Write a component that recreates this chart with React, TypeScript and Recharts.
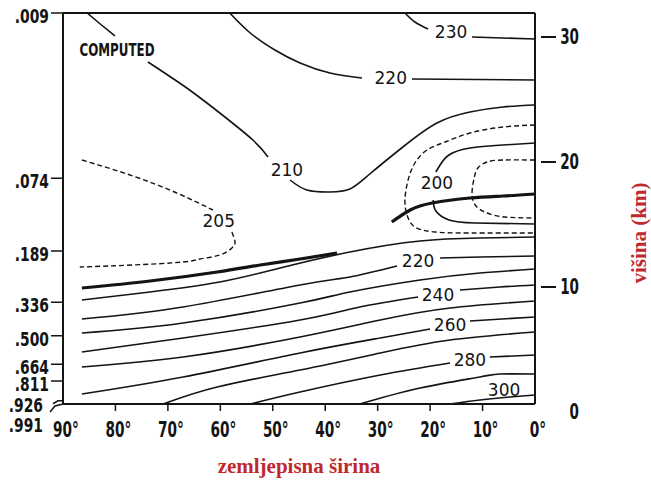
import React from 'react';
import { LineChart, Line, XAxis, YAxis, ReferenceLine, ReferenceDot } from 'recharts';

// axis ticks
const latTicks = [90, 80, 70, 60, 50, 40, 30, 20, 10, 0];
const heightTicks = [0, 10, 20, 30];
const sigmaLabels = ['.009', '.074', '.189', '.336', '.500', '.664', '.811', '.926', '.991'];
const sigmaHeights = [31.92, 18.7, 12.88, 8.78, 6.1, 3.82, 2.48, 0.9, 0.64];

// contours: [latitude, height km], null = gap for a label
type Row = [number, number | null];

const c230: Row[] = [[24.8, 31.92], [22.9, 31.2], [20.4, 30.64], [17.5, null], [12.0, 30.0], [0, 29.84]];
const c220top: Row[] = [[58.2, 31.92], [54.3, 30.32], [49.6, 28.96], [44.8, 27.92], [39.1, 27.12], [33.0, 26.72], [27.6, null], [23.45, 26.64], [0, 26.56]];
const c210top: Row[] = [
  [85.4, 31.92], [82.9, 31.04], [80.1, 30.08], [77.2, null], [73.8, 28.0], [66.4, 25.92], [60.1, 23.92],
  [53.8, 21.76], [50.9, 20.4], [49.5, null], [46.7, 18.56], [43.5, 17.76], [39.1, 17.6], [35.3, 17.84],
  [31.5, 19.04], [25.2, 21.2], [18.7, 23.12], [12.4, 24.0], [6.1, 24.4], [0, 24.56],
];
const c205left: Row[] = [
  [86.4, 20.16], [76.65, 18.88], [68.3, 17.52], [61.4, 16.16], [59.5, null], [57.8, 14.4], [57.2, 13.6],
  [57.8, 13.12], [60.1, 12.56], [63.9, 12.24], [67.1, 12.0], [76.65, 11.76], [86.8, 11.6],
];
const c205right: Row[] = [
  [0, 22.96], [6.1, 22.8], [12.4, 22.32], [17.15, 21.6], [20.6, 20.96], [22.9, 19.92], [24.2, 18.56],
  [24.8, 16.96], [24.4, 15.76], [22.9, 14.8], [19.1, 14.4], [12.4, 14.32], [0, 14.32],
];
const c200: Row[] = [
  [0, 21.52], [6.1, 21.36], [12.4, 21.12], [16.4, 20.56], [18.1, 19.76], [18.9, 19.2], [19, null],
  [19.4, 16.96], [18.9, 16.08], [16.4, 15.36], [11.4, 15.12], [0, 15.04],
];
const c195: Row[] = [
  [0, 20.16], [6.1, 20.16], [9.15, 20.0], [10.9, 19.52], [11.6, 18.72], [12.0, 17.6], [11.4, 16.56],
  [9.15, 15.92], [5.7, 15.6], [0, 15.52],
];
const tropoLeft: Row[] = [[86.4, 9.92], [73.4, 10.48], [60.6, 11.2], [52.4, 11.76], [44.8, 12.24], [37.75, 12.72]];
const tropoRight: Row[] = [[27.3, 15.2], [23.8, 16.16], [19.6, 16.72], [12.4, 17.12], [6.1, 17.28], [0, 17.44]];

const c210low: Row[] = [[86.4, 8.96], [73.4, 9.6], [60.1, 10.4], [48.6, 11.52], [35.3, 12.8], [21.9, 13.68], [10.5, 13.92], [0, 14.0]];
const c220: Row[] = [[86.4, 7.44], [67.1, 8.4], [44.8, 10.16], [35.3, 10.8], [26.3, 11.68], [22, null], [18.1, 12.32], [10.5, 12.4], [0, 12.48]];
const c230low: Row[] = [[86.4, 6.32], [67.1, 7.12], [44.8, 8.72], [35.3, 9.6], [21.9, 10.56], [10.5, 11.12], [0, 11.44]];
const c240: Row[] = [[86.4, 4.8], [67.1, 5.92], [44.8, 7.36], [33.4, 8.4], [22.3, 9.2], [18, null], [14.3, 9.76], [6.7, 10.0], [0, 10.16]];
const c250: Row[] = [[86.4, 3.6], [67.1, 4.4], [44.8, 6.0], [29.5, 7.36], [16.2, 8.32], [0, 8.88]];
const c260: Row[] = [[86.4, 1.44], [67.1, 2.8], [44.8, 4.72], [29.5, 5.92], [20.0, 6.64], [16, null], [12.4, 7.28], [0, 7.6]];
const c270: Row[] = [[70.9, 0.64], [60.6, 2.0], [44.8, 3.36], [29.5, 4.72], [16.2, 5.76], [0, 6.4]];
const c280: Row[] = [[54.3, 0.64], [44.8, 1.6], [29.5, 2.96], [16.2, 3.92], [12, null], [8.6, 4.4], [0, 4.56]];
const c290: Row[] = [[33.4, 0.64], [21.9, 1.92], [10.5, 2.8], [6.7, 3.04], [0, 3.04]];
const c300: Row[] = [[16.2, 0.64], [10.5, 0.96], [4.8, 1.2], [0, 1.36]];

const solidLines = [c230, c220top, c210top, c200, c210low, c220, c230low, c240, c250, c260, c270, c280, c290, c300];
const dashedLines = [c205left, c205right, c195];
const thickLines = [tropoLeft, tropoRight];

// contour labels
const labelTexts = ['230', '220', '210', '205', '200', '220', '240', '260', '280', '300'];
const labelLats = [16.0, 27.5, 47.3, 60.3, 18.7, 22.3, 18.5, 16.2, 12.4, 5.9];
const labelHeights = [30.4, 26.72, 19.36, 15.28, 18.32, 12.08, 9.36, 6.96, 4.16, 1.76];

const INK = '#141414';
const RED = '#c0282d';
const NARROW = "'Liberation Sans Narrow', 'DejaVu Sans Condensed', 'DejaVu Sans', sans-serif";
const SANS = "'DejaVu Sans', 'Liberation Sans', sans-serif";
const SERIF = "'Liberation Serif', 'DejaVu Serif', serif";
const Y_DOMAIN: [number, number] = [0.64, 31.92];

const rows = (r: Row[]) => r.map(([lat, h]) => ({ lat, h }));

// squeeze bold text to the narrow width of the scanned typeface
const narrowWidth = (s: string) =>
  s.split('').reduce((w, c) => w + (c === '.' ? 6 : c === '°' ? 7 : 9.4), 0);

const NarrowText = ({ x, y, anchor, size = 20, children }: any) => (
  <text x={x} y={y} textAnchor={anchor} fontFamily={NARROW} fontWeight={700} fontSize={size} fill={INK}
    textLength={narrowWidth(String(children))} lengthAdjust="spacingAndGlyphs">
    {children}
  </text>
);

const SigmaTick = (props: any) => {
  const { x, y, payload } = props;
  const i = props.index ?? sigmaHeights.indexOf(payload.value);
  const label = sigmaLabels[i];
  if (i === 7) {
    return (
      <g>
        <polyline points={`${x},${y} ${x - 5},${y} ${x - 10},${y + 3}`} fill="none" stroke={INK} strokeWidth={1.5} />
        <NarrowText x={x - 20} y={y + 11} anchor="end">{label}</NarrowText>
      </g>
    );
  }
  if (i === 8) {
    return (
      <g>
        <polyline points={`${x},${y} ${x - 8},${y + 2} ${x - 13},${y + 8}`} fill="none" stroke={INK} strokeWidth={1.5} />
        <NarrowText x={x - 20} y={y + 28} anchor="end">{label}</NarrowText>
      </g>
    );
  }
  return (
    <g>
      <line x1={x - 12} x2={x} y1={y} y2={y} stroke={INK} strokeWidth={1.5} />
      <NarrowText x={x - 14} y={y + 10} anchor="end">{label}</NarrowText>
    </g>
  );
};

const HeightTick = (props: any) => {
  const { x, y, payload } = props;
  return (
    <g>
      {payload.value !== 0 && <line x1={x + 6} x2={x + 21} y1={y} y2={y} stroke={INK} strokeWidth={2} />}
      <NarrowText x={x + 44} y={y + 7} anchor="end" size={21}>{String(payload.value)}</NarrowText>
    </g>
  );
};

const LatTick = (props: any) => {
  const { x, y, payload } = props;
  const v = payload.value;
  return (
    <g>
      {v !== 90 && v !== 0 && <line x1={x} x2={x} y1={y + 1} y2={y + 7} stroke={INK} strokeWidth={1.5} />}
      <NarrowText x={x + 3} y={y + 33} anchor="middle" size={21}>{`${v}°`}</NarrowText>
    </g>
  );
};

const xTitle = (props: any) => {
  const vb = props.viewBox || { x: 63, y: 404, width: 472 };
  return (
    <text x={vb.x + vb.width / 2} y={vb.y + 69} textAnchor="middle" fill={RED} fontFamily={SERIF} fontWeight={700} fontSize={21}>
      zemljepisna širina
    </text>
  );
};

const yTitle = (props: any) => {
  const vb = props.viewBox || { x: 535, y: 13 };
  const cx = vb.x + 104;
  const cy = vb.y + 220;
  return (
    <text x={cx} y={cy} transform={`rotate(-90 ${cx} ${cy})`} textAnchor="middle" dominantBaseline="central"
      fill={RED} fontFamily={SERIF} fontWeight={700} fontSize={21}>
      višina (km)
    </text>
  );
};

const computedLabel = (props: any) => {
  const vb = props.viewBox || { x: 0, y: 0, width: 0, height: 0 };
  return (
    <text x={vb.x + vb.width / 2} y={vb.y + vb.height / 2 + 6} textAnchor="middle" fontFamily={NARROW} fontWeight={700}
      fontSize={17} fill={INK} textLength={75} lengthAdjust="spacingAndGlyphs">
      COMPUTED
    </text>
  );
};

export default function App() {
  return (
    <div style={{ position: 'absolute', left: 0, top: 0, width: 651, height: 481, background: '#fff' }}>
      <LineChart width={651} height={481} margin={{ top: 13, right: 0, bottom: 0, left: 0 }}>
        <XAxis type="number" dataKey="lat" domain={[0, 90]} reversed ticks={latTicks} interval={0}
          height={77} tickSize={0} tickMargin={0} tick={<LatTick />} axisLine={{ stroke: INK, strokeWidth: 2 }}
          allowDataOverflow label={xTitle} />
        <YAxis yAxisId="left" type="number" domain={Y_DOMAIN} allowDataOverflow ticks={sigmaHeights} interval={0}
          width={63} tickSize={0} tickMargin={0} tick={<SigmaTick />} axisLine={{ stroke: INK, strokeWidth: 2 }} />
        <YAxis yAxisId="right" orientation="right" type="number" domain={Y_DOMAIN} allowDataOverflow ticks={heightTicks}
          interval={0} width={116} tickSize={0} tickMargin={0} tick={<HeightTick />}
          axisLine={{ stroke: INK, strokeWidth: 2 }} label={yTitle} />
        <ReferenceLine yAxisId="left" y={Y_DOMAIN[1]} stroke={INK} strokeWidth={2} />

        {solidLines.map((r, i) => (
          <Line key={`s${i}`} yAxisId="left" data={rows(r)} dataKey="h" type="natural" stroke={INK} strokeWidth={1.6}
            dot={false} activeDot={false} isAnimationActive={false} />
        ))}
        {dashedLines.map((r, i) => (
          <Line key={`d${i}`} yAxisId="left" data={rows(r)} dataKey="h" type="natural" stroke={INK} strokeWidth={1.4}
            strokeDasharray="5 3" dot={false} activeDot={false} isAnimationActive={false} />
        ))}
        {thickLines.map((r, i) => (
          <Line key={`t${i}`} yAxisId="left" data={rows(r)} dataKey="h" type="natural" stroke={INK} strokeWidth={3.2}
            dot={false} activeDot={false} isAnimationActive={false} />
        ))}

        {labelTexts.map((t, i) => (
          <ReferenceDot key={`l${i}`} yAxisId="left" x={labelLats[i]} y={labelHeights[i]} r={1} fill="none" stroke="none"
            label={{ value: t, position: 'center', fill: INK, fontSize: 17, fontFamily: SANS }} />
        ))}
        <ReferenceDot yAxisId="left" x={79.7} y={28.96} r={1} fill="none" stroke="none" label={computedLabel} />
      </LineChart>
    </div>
  );
}
